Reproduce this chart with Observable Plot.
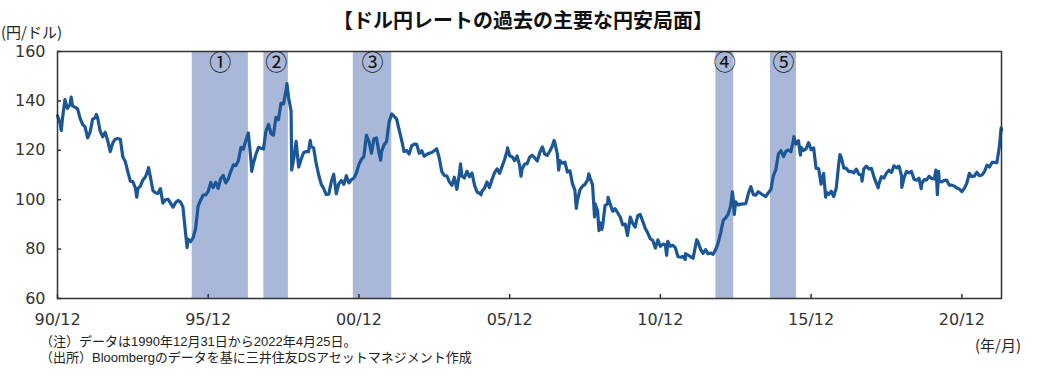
<!DOCTYPE html>
<html><head><meta charset="utf-8">
<script src="https://cdn.jsdelivr.net/npm/d3@7"></script>
<script src="https://cdn.jsdelivr.net/npm/@observablehq/plot@0.6"></script>
<style>
body{margin:0;background:#fff;}
#wrap{position:relative;width:1037px;height:381px;overflow:hidden;font-family:"Noto Sans CJK JP",sans-serif;color:#222;}
#chart{position:absolute;left:0;top:0;}
.t{position:absolute;white-space:nowrap;}
#title{left:523px;top:8px;transform:translateX(-50%);font-size:20px;line-height:24px;font-weight:bold;color:#111;}
#yunit{left:1px;top:23px;font-size:15px;line-height:18px;}
#xunit{left:975px;top:336px;font-size:15px;line-height:18px;}
.note{font-family:"Liberation Sans","Noto Sans CJK JP",sans-serif;font-size:13px;line-height:15px;}
#note1{left:40px;top:334px;}
#note2{left:40px;top:350px;}
</style></head><body>
<div id="wrap">
<div id="chart"></div>
<div class="t" id="title">【ドル円レートの過去の主要な円安局面】</div>
<div class="t" id="yunit">(円/ドル)</div>
<div class="t" id="xunit">(年/月)</div>
<div class="t note" id="note1">（注）データは1990年12月31日から2022年4月25日。</div>
<div class="t note" id="note2">（出所）Bloombergのデータを基に三井住友DSアセットマネジメント作成</div>
</div>
<script>
const dates = [
"1990-12-31","1991-01-31","1991-02-15","1991-02-28","1991-03-31","1991-04-30","1991-05-31","1991-06-15","1991-06-30","1991-07-31","1991-08-31","1991-09-30","1991-10-31","1991-11-30","1991-12-31",
"1992-01-31","1992-02-29","1992-03-31","1992-04-15","1992-04-30","1992-05-31","1992-06-30","1992-07-31","1992-08-31","1992-09-30","1992-10-31","1992-11-30","1992-12-31",
"1993-01-31","1993-02-28","1993-03-31","1993-04-30","1993-05-31","1993-06-30","1993-07-31","1993-08-17","1993-08-31","1993-09-30","1993-10-31","1993-11-30","1993-12-31",
"1994-01-07","1994-01-31","1994-02-28","1994-03-31","1994-04-30","1994-05-31","1994-06-30","1994-07-31","1994-08-31","1994-09-30","1994-10-31","1994-11-30","1994-12-31",
"1995-01-31","1995-02-28","1995-03-31","1995-04-19","1995-04-30","1995-05-31","1995-06-30","1995-07-31","1995-08-31","1995-09-30","1995-10-31","1995-11-30","1995-12-31",
"1996-01-31","1996-02-29","1996-03-31","1996-04-30","1996-05-31","1996-06-30","1996-07-31","1996-08-31","1996-09-30","1996-10-31","1996-11-30","1996-12-31",
"1997-01-31","1997-02-28","1997-03-31","1997-04-30","1997-05-31","1997-06-10","1997-06-30","1997-07-31","1997-08-31","1997-09-30","1997-10-31","1997-11-30","1997-12-31",
"1998-01-31","1998-02-28","1998-03-31","1998-04-30","1998-05-31","1998-06-30","1998-07-31","1998-08-11","1998-08-31","1998-09-30","1998-10-08","1998-10-31","1998-11-30","1998-12-31",
"1999-01-31","1999-02-28","1999-03-31","1999-04-30","1999-05-20","1999-05-31","1999-06-30","1999-07-31","1999-08-31","1999-09-30","1999-10-31","1999-11-30","1999-12-31",
"2000-01-31","2000-02-29","2000-03-31","2000-04-30","2000-05-31","2000-06-30","2000-07-31","2000-08-31","2000-09-30","2000-10-31","2000-11-30","2000-12-31",
"2001-01-31","2001-02-28","2001-03-31","2001-04-30","2001-05-31","2001-06-30","2001-07-31","2001-08-31","2001-09-20","2001-09-30","2001-10-31","2001-11-30","2001-12-31",
"2002-01-31","2002-02-28","2002-03-31","2002-04-30","2002-05-31","2002-06-30","2002-07-31","2002-08-31","2002-09-30","2002-10-31","2002-11-30","2002-12-31",
"2003-01-31","2003-02-28","2003-03-31","2003-04-30","2003-05-31","2003-06-30","2003-07-31","2003-08-31","2003-09-30","2003-10-31","2003-11-30","2003-12-31",
"2004-01-31","2004-02-29","2004-03-31","2004-04-30","2004-05-14","2004-05-31","2004-06-30","2004-07-31","2004-08-31","2004-09-30","2004-10-31","2004-11-30","2004-12-31",
"2005-01-17","2005-01-31","2005-02-28","2005-03-31","2005-04-30","2005-05-31","2005-06-30","2005-07-31","2005-08-31","2005-09-30","2005-10-31","2005-11-30","2005-12-05","2005-12-31",
"2006-01-31","2006-02-28","2006-03-31","2006-04-30","2006-05-17","2006-05-31","2006-06-30","2006-07-31","2006-08-31","2006-09-30","2006-10-31","2006-11-30","2006-12-31",
"2007-01-31","2007-02-28","2007-03-31","2007-04-30","2007-05-31","2007-06-22","2007-06-30","2007-07-31","2007-08-17","2007-08-31","2007-09-30","2007-10-31","2007-11-30","2007-12-31",
"2008-01-31","2008-02-29","2008-03-17","2008-03-31","2008-04-30","2008-05-31","2008-06-30","2008-07-31","2008-08-15","2008-08-31","2008-09-30","2008-10-24","2008-10-31","2008-11-30","2008-12-17","2008-12-31",
"2009-01-21","2009-01-31","2009-02-28","2009-03-31","2009-04-06","2009-04-30","2009-05-31","2009-06-30","2009-07-31","2009-08-31","2009-09-30","2009-10-31","2009-11-27","2009-11-30","2009-12-31",
"2010-01-31","2010-02-28","2010-03-31","2010-04-30","2010-05-31","2010-06-30","2010-07-31","2010-08-31","2010-09-30","2010-10-31","2010-11-30","2010-12-31",
"2011-01-31","2011-02-28","2011-03-17","2011-03-31","2011-04-30","2011-05-31","2011-06-30","2011-07-31","2011-08-31","2011-09-30","2011-10-28","2011-10-31","2011-11-30","2011-12-31",
"2012-01-31","2012-02-29","2012-03-15","2012-03-31","2012-04-30","2012-05-31","2012-06-30","2012-07-31","2012-08-31","2012-09-30","2012-10-31","2012-11-30","2012-12-31",
"2013-01-31","2013-02-28","2013-03-31","2013-04-30","2013-05-22","2013-05-31","2013-06-13","2013-06-30","2013-07-31","2013-08-31","2013-09-30","2013-10-31","2013-11-30","2013-12-31",
"2014-01-31","2014-02-28","2014-03-31","2014-04-30","2014-05-31","2014-06-30","2014-07-31","2014-08-31","2014-09-30","2014-10-31","2014-11-30","2014-12-31",
"2015-01-31","2015-02-28","2015-03-31","2015-04-30","2015-05-31","2015-06-05","2015-06-30","2015-07-31","2015-08-24","2015-08-31","2015-09-30","2015-10-31","2015-11-30","2015-12-31",
"2016-01-31","2016-02-29","2016-03-31","2016-04-30","2016-05-31","2016-06-24","2016-06-30","2016-07-31","2016-08-31","2016-09-30","2016-10-31","2016-11-30","2016-12-15","2016-12-31",
"2017-01-31","2017-02-28","2017-03-31","2017-04-30","2017-05-31","2017-06-30","2017-07-31","2017-08-31","2017-09-08","2017-09-30","2017-10-31","2017-11-30","2017-12-31",
"2018-01-31","2018-02-28","2018-03-23","2018-03-31","2018-04-30","2018-05-31","2018-06-30","2018-07-31","2018-08-31","2018-09-30","2018-10-31","2018-11-30","2018-12-31",
"2019-01-03","2019-01-31","2019-02-28","2019-03-31","2019-04-30","2019-05-31","2019-06-30","2019-07-31","2019-08-26","2019-08-31","2019-09-30","2019-10-31","2019-11-30","2019-12-31",
"2020-01-31","2020-02-20","2020-02-29","2020-03-09","2020-03-24","2020-03-31","2020-04-30","2020-05-31","2020-06-30","2020-07-31","2020-08-31","2020-09-30","2020-10-31","2020-11-30","2020-12-31",
"2021-01-31","2021-02-28","2021-03-31","2021-04-30","2021-05-31","2021-06-30","2021-07-31","2021-08-31","2021-09-30","2021-10-31","2021-11-30","2021-12-31",
"2022-01-31","2022-02-28","2022-03-31","2022-04-20","2022-04-25"
];
const rates = [
134.0,131.0,128.0,132.5,140.5,137.0,138.5,141.5,138.0,137.5,136.8,133.0,130.5,129.5,125.0,
127.5,132.5,133.2,134.5,133.2,127.8,125.5,127.3,123.8,119.5,123.0,124.5,124.8,
124.5,117.5,115.4,111.5,107.5,107.3,104.8,101.0,104.5,105.5,108.0,109.2,111.9,
113.0,109.0,103.8,102.8,102.5,104.5,98.6,100.0,100.2,98.6,97.0,98.8,99.7,
99.0,97.0,86.7,80.6,84.0,83.0,84.6,88.2,97.4,99.8,101.9,101.9,103.4,
107.0,104.9,107.0,104.6,108.6,109.8,106.8,108.5,111.5,114.1,113.8,115.9,
121.2,120.4,124.0,127.0,116.5,111.5,114.6,118.4,121.2,120.8,120.5,127.8,130.5,
126.7,126.1,133.3,132.4,139.0,138.8,144.2,147.0,141.3,136.0,112.0,116.3,123.6,113.2,
116.5,119.0,119.5,119.4,124.0,121.5,121.0,114.7,110.0,106.3,104.4,102.1,102.2,
107.3,110.3,102.4,106.4,107.8,106.2,109.7,106.8,108.1,108.8,110.8,114.4,
116.4,117.4,126.1,123.6,118.8,124.7,125.0,119.0,116.0,119.4,122.3,123.5,131.5,
134.7,133.8,132.7,128.5,124.2,119.5,119.9,118.5,121.8,122.5,122.4,118.8,
119.8,117.6,118.3,118.8,119.1,119.8,120.6,116.8,111.4,109.8,109.6,107.2,
105.8,109.1,104.2,110.4,114.5,109.6,108.8,111.5,109.3,110.8,105.9,103.1,102.6,
102.0,103.6,104.6,107.2,104.9,108.2,110.9,112.5,110.7,113.5,116.4,119.8,121.0,117.8,
117.3,115.8,117.7,113.9,109.5,112.5,114.4,114.6,117.3,118.0,116.9,115.7,119.1,
121.4,118.5,117.9,119.6,121.7,124.0,123.2,118.6,112.0,115.8,114.8,115.2,111.2,111.7,
106.4,103.9,96.5,99.7,104.0,105.5,106.2,107.9,110.5,108.8,106.0,93.0,98.4,95.5,87.5,90.6,
88.0,89.5,97.6,98.3,101.0,98.5,95.3,96.4,94.7,93.0,89.8,90.1,85.5,86.3,93.0,
90.3,88.9,93.5,94.0,91.3,88.4,86.5,84.2,83.5,80.4,83.7,81.1,
82.0,81.8,77.5,83.1,81.2,81.5,80.6,77.0,76.7,77.0,75.8,78.2,77.6,76.9,
76.3,81.2,83.8,82.9,80.0,78.3,79.8,78.1,78.4,77.9,79.8,82.5,86.7,
91.7,92.6,94.2,97.5,103.2,100.5,94.0,99.1,97.9,98.2,98.3,98.4,102.4,105.3,
102.0,101.8,103.2,102.5,101.8,101.3,102.8,104.1,109.7,112.3,118.6,119.8,
117.5,119.6,120.1,119.4,124.1,125.5,122.5,123.9,118.0,121.2,119.9,120.6,123.1,120.2,
121.0,112.7,112.6,106.3,110.7,101.0,103.2,102.1,103.4,101.3,104.8,114.5,118.3,117.0,
112.8,112.8,111.4,111.5,110.8,112.4,110.3,110.0,107.5,112.5,113.6,112.5,112.7,
109.2,106.7,104.8,106.3,109.3,108.8,110.7,111.9,111.0,113.7,112.9,113.6,109.7,
105.0,108.9,111.4,110.9,111.4,108.3,107.9,108.7,104.5,106.3,108.1,108.0,109.5,108.6,
108.4,112.0,107.9,102.0,111.5,107.5,107.2,107.8,107.9,105.9,105.9,105.5,104.7,104.3,103.3,
104.7,106.6,110.7,109.3,109.6,111.1,109.7,110.0,111.3,114.0,113.2,115.1,
115.1,115.0,121.7,129.0,128.2
];
const shadeStarts = ["1995-06-20","1997-11-04","2000-10-23","2012-11-03","2014-08-26"];
const shadeEnds = ["1997-05-01","1998-08-29","2002-02-01","2013-06-07","2015-07-07"];
const shadeLabels = ["①","②","③","④","⑤"];
const tickDates = ["1990-12-31","1995-12-31","2000-12-31","2005-12-31","2010-12-31","2015-12-31","2020-12-31"];
const tickLabels = ["90/12","95/12","00/12","05/12","10/12","15/12","20/12"];
const yTicks = [60,80,100,120,140,160];

const series = dates.map((d, i) => ({date: new Date(d), rate: rates[i]}));
const shades = shadeStarts.map((s, i) => ({start: new Date(s), end: new Date(shadeEnds[i]), label: shadeLabels[i]}));
const xTicks = tickDates.map(d => new Date(d));
const labelByTime = new Map(xTicks.map((d, i) => [+d, tickLabels[i]]));

const chart = Plot.plot({
  width: 1037,
  height: 381,
  marginLeft: 57,
  marginRight: 36,
  marginTop: 51,
  marginBottom: 83,
  style: {fontFamily: "DejaVu Sans", fontSize: "16px", color: "#222", background: "transparent"},
  x: {type: "utc", domain: [new Date("1990-12-31"), new Date("2022-04-25")]},
  y: {domain: [60, 160]},
  marks: [
    Plot.rect(shades, {x1: "start", x2: "end", fill: "#a9b8d8"}),
    Plot.line(series, {x: "date", y: "rate", stroke: "#1b5796", strokeWidth: 3.2, strokeLinejoin: "round"}),
    Plot.frame({stroke: "#333", strokeWidth: 1.5}),
    Plot.axisY(yTicks, {tickSize: -4, tickPadding: 16, color: "#333", strokeWidth: 1.5, fontSize: 16, label: null}),
    Plot.axisX(xTicks, {tickSize: -4, tickPadding: 19, color: "#333", strokeWidth: 1.5, fontSize: 16, label: null, tickFormat: d => labelByTime.get(+d)}),
    Plot.text(shades, {x: d => new Date((+d.start + +d.end) / 2), text: "label", frameAnchor: "top", lineAnchor: "middle", dy: 11, fontSize: 22, fontFamily: "Noto Sans CJK JP", fill: "#111"})
  ]
});
document.getElementById("chart").appendChild(chart);
</script>
</body></html>
